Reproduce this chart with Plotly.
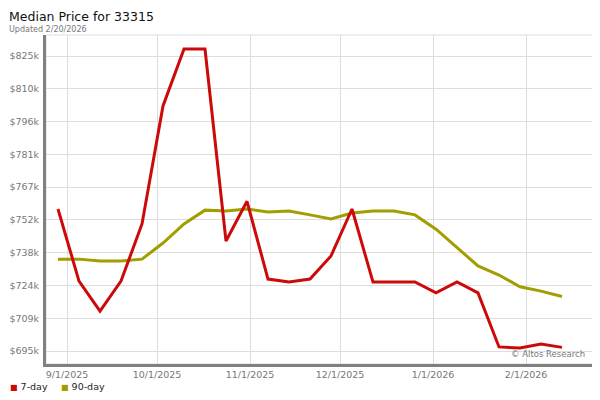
import plotly.graph_objects as go

# Weekly dates (Fridays)
dates = ["2025-08-29", "2025-09-05", "2025-09-12", "2025-09-19", "2025-09-26",
         "2025-10-03", "2025-10-10", "2025-10-17", "2025-10-24", "2025-10-31",
         "2025-11-07", "2025-11-14", "2025-11-21", "2025-11-28", "2025-12-05",
         "2025-12-12", "2025-12-19", "2025-12-26", "2026-01-02", "2026-01-09",
         "2026-01-16", "2026-01-23", "2026-01-30", "2026-02-06", "2026-02-13"]

# Median price, thousands of dollars
seven_day = [757.6, 725.8, 712.6, 725.8, 751.0, 803.0, 828.1, 828.1, 743.5, 761.0,
             726.7, 725.4, 726.7, 736.9, 757.6, 725.4, 725.4, 725.4, 720.6, 725.4,
             720.6, 696.8, 696.3, 698.1, 696.6]
ninety_day = [735.5, 735.5, 734.7, 734.7, 735.5, 742.6, 751.0, 757.1, 756.7, 757.6,
              756.3, 756.7, 755.0, 753.2, 755.8, 756.7, 756.7, 755.0, 748.7, 740.4,
              732.5, 728.5, 723.3, 721.4, 719.0]

y_tickvals = [695.0, 709.44, 723.89, 738.33, 752.78, 767.22, 781.67, 796.11, 810.56, 825.0]
y_ticktext = ["$695k", "$709k", "$724k", "$738k", "$752k", "$767k", "$781k", "$796k", "$810k", "$825k"]

x_tickvals = ["2025-09-01", "2025-10-01", "2025-11-01", "2025-12-01", "2026-01-01", "2026-02-01"]
x_ticktext = ["9/1/2025", "10/1/2025", "11/1/2025", "12/1/2025", "1/1/2026", "2/1/2026"]

RED = "#cc0a0a"
OLIVE = "#a29e00"
FONT = "DejaVu Sans"

PW, PH = 547, 329  # plot area size in px
L, T = 38, 27

fig = go.Figure()
fig.add_trace(go.Scatter(x=dates, y=ninety_day, mode="lines", name="90-day",
                         line=dict(color=OLIVE, width=3), showlegend=False))
fig.add_trace(go.Scatter(x=dates, y=seven_day, mode="lines", name="7-day",
                         line=dict(color=RED, width=3), showlegend=False))

fig.update_layout(
    width=592, height=392,
    margin=dict(l=L, r=7, t=T, b=36, autoexpand=False),
    paper_bgcolor="white", plot_bgcolor="white",
    font=dict(family=FONT, size=9.5, color="#777"),
    xaxis=dict(type="date", range=["2025-08-25", "2026-02-23 08:00"],
               tickvals=x_tickvals, ticktext=x_ticktext,
               showgrid=True, gridcolor="#dddddd", gridwidth=1,
               showline=True, linecolor="#808080", linewidth=3,
               ticks="", zeroline=False, automargin=False,
               tickfont=dict(family=FONT, size=9.5, color="#777")),
    yaxis=dict(range=[689.27, 834.3],
               tickvals=y_tickvals, ticktext=y_ticktext,
               showgrid=True, gridcolor="#dddddd", gridwidth=1,
               showline=True, linecolor="#808080", linewidth=3,
               ticks="", zeroline=False, automargin=False, ticklabelstandoff=2,
               tickfont=dict(family=FONT, size=9.5, color="#777")),
    shapes=[dict(type="rect", xref="paper", yref="paper", x0=0, x1=1, y0=0, y1=1,
                 line=dict(color="#dddddd", width=1), layer="below")],
    annotations=[
        dict(text="Median Price for 33315", xref="paper", yref="paper",
             x=-L/PW, y=1 + T/PH, xanchor="left", yanchor="top",
             showarrow=False, borderpad=0,
             font=dict(family=FONT, size=12.5, color="#111")),
        dict(text="Updated 2/20/2026", xref="paper", yref="paper",
             x=-L/PW, y=1 + 5.3/PH, xanchor="left", yanchor="middle",
             showarrow=False, borderpad=0,
             font=dict(family=FONT, size=8, color="#777")),
        dict(text="© Altos Research", xref="paper", yref="paper",
             x=1 - 6/PW, y=10/PH, xanchor="right", yanchor="middle",
             showarrow=False, font=dict(family=FONT, size=8.5, color="#777")),
        dict(text="<span style='color:%s;font-size:8px'>■</span> 7-day" % RED,
             xref="paper", yref="paper", x=-L/PW, y=-22/PH,
             xanchor="left", yanchor="middle", showarrow=False,
             font=dict(family=FONT, size=9.5, color="#222")),
        dict(text="<span style='color:%s;font-size:8px'>■</span> 90-day" % OLIVE,
             xref="paper", yref="paper", x=13/PW, y=-22/PH,
             xanchor="left", yanchor="middle", showarrow=False,
             font=dict(family=FONT, size=9.5, color="#222")),
    ],
)

fig.write_html("out.html")
